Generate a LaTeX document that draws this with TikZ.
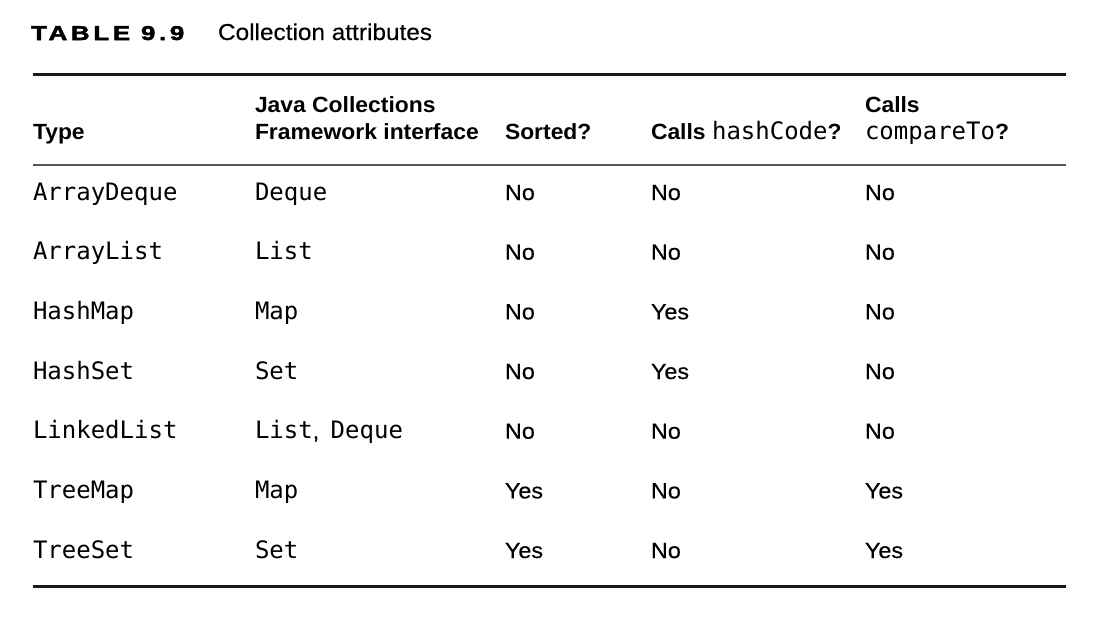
\documentclass[tikz,border=0pt]{standalone}
\usepackage{fontspec}
\setmainfont{Liberation Sans}
\newfontfamily\regfont{Liberation Sans}[FakeStretch=1.06,FakeBold=0.4]
\newfontfamily\hdrfont{Liberation Sans Bold}[FakeStretch=1.04]
\newfontfamily\codefont{DejaVu Sans Mono}
\newfontfamily\tabfont{Liberation Sans Bold}[FakeStretch=1.3,LetterSpace=18,FakeBold=2.5]
\definecolor{rulec}{HTML}{1A1A1A}
\definecolor{midrule}{HTML}{555555}
\newcommand{\cd}[1]{{\codefont #1}}
\tikzset{
  cell/.style={anchor=base west, inner sep=0pt, outer sep=0pt},
  txt/.style={cell, font=\regfont\fontsize{22}{26}\selectfont},
  code/.style={cell, font=\codefont\fontsize{24}{28}\selectfont},
  hdr/.style={cell, font=\hdrfont\fontsize{22}{26}\selectfont},
  thick rule/.style={line width=3pt, rulec},
  thin rule/.style={line width=2pt, midrule}
}
\begin{document}
\begin{tikzpicture}[x=1pt,y=-1pt]
\useasboundingbox (0,0) rectangle (1097,622);
% title
\node[cell, font=\tabfont\fontsize{20}{24}\selectfont] (tnum) at (31,40) {TABLE 9.9};
\node[cell, font=\regfont\fontsize{23}{27}\selectfont] (title) at (218,40) {Collection attributes};
% rules
\coordinate (tl) at (33,74.5); \coordinate (tr) at (1066,74.5);
\coordinate (ml) at (33,165); \coordinate (mr) at (1066,165);
\coordinate (bl) at (33,586); \coordinate (br) at (1066,586);
\draw[thick rule] (tl) -- (tr);
\draw[thin rule] (ml) -- (mr);
\draw[thick rule] (bl) -- (br);
% header
\node[hdr] (h1) at (33,139) {Type};
\node[hdr] (h2a) at (255,112) {Java Collections};
\node[hdr] (h2b) at (255,139) {Framework interface};
\node[hdr] (h3) at (505,139) {Sorted?};
\node[hdr] (h4) at (651,139) {Calls \cd{\fontsize{24}{28}\selectfont hashCode}?};
\node[hdr] (h5a) at (865,112) {Calls};
\node[hdr] (h5b) at (865,139) {\cd{\fontsize{24}{28}\selectfont compareTo}?};
% rows
\foreach \i/\a/\b/\c/\d/\e in {
  1/ArrayDeque/Deque/No/No/No,
  2/ArrayList/List/No/No/No,
  3/HashMap/Map/No/Yes/No,
  4/HashSet/Set/No/Yes/No,
  6/TreeMap/Map/Yes/No/Yes,
  7/TreeSet/Set/Yes/No/Yes,
  5/LinkedList/{}/No/No/No}{
  \pgfmathsetmacro{\yy}{200+(\i-1)*59.67}
  \node[code] (r\i c1) at (33,\yy) {\a};
  \node[code] (r\i c2) at (255,\yy) {\b};
  \node[txt] (r\i c3) at (505,\yy) {\c};
  \node[txt] (r\i c4) at (651,\yy) {\d};
  \node[txt] (r\i c5) at (865,\yy) {\e};
}
\node[code] (r5c2b) at (255,438.7) {List{\regfont\fontsize{22}{26}\selectfont,}\hspace{-3pt} Deque};
\end{tikzpicture}
\end{document}
